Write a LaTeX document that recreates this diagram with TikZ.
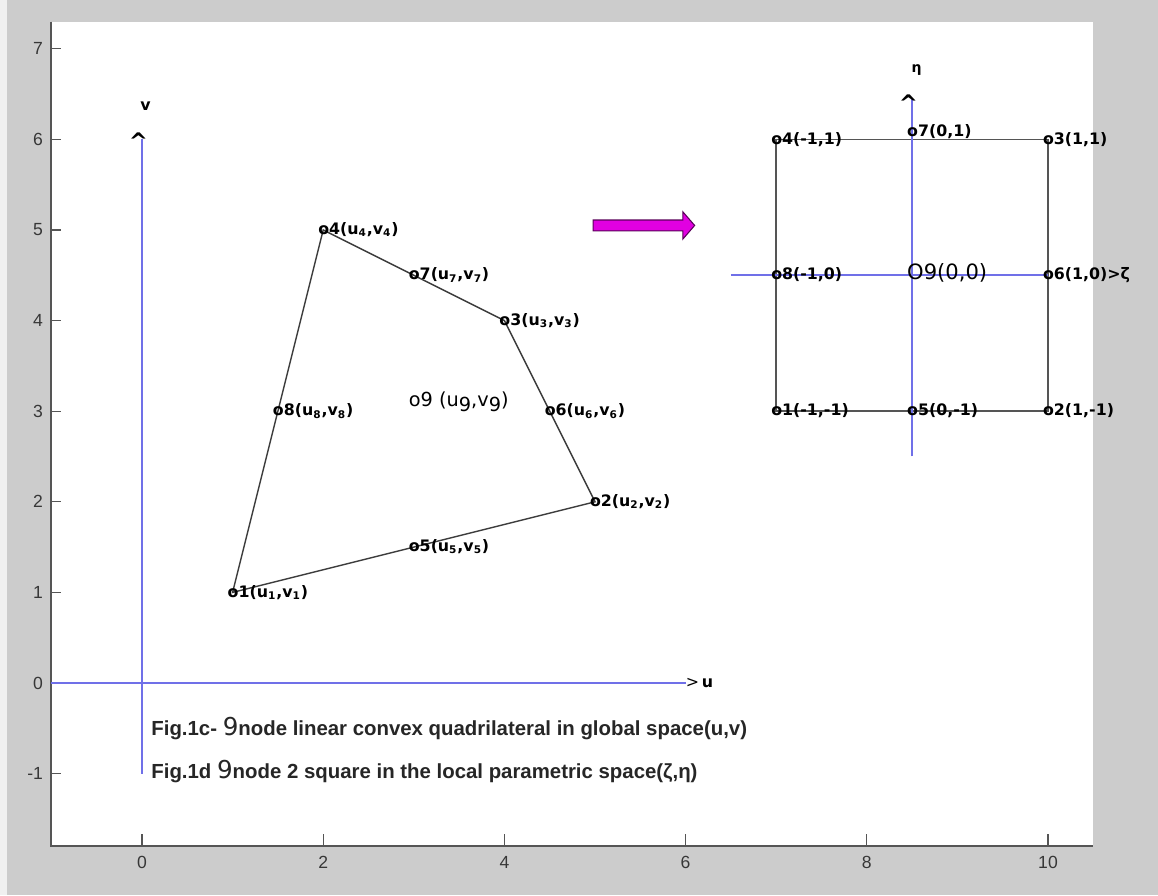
\documentclass[tikz,border=0pt]{standalone}
\usepackage{fontspec}
\setmainfont{Liberation Sans}
\newfontfamily\labfont{DejaVu Sans}
\definecolor{FigGray}{RGB}{204,204,204}
\definecolor{AxisBlue}{RGB}{112,112,232}
\definecolor{FrameGray}{RGB}{85,85,85}
\definecolor{EdgeGray}{RGB}{60,60,60}
\definecolor{TickText}{RGB}{55,55,55}
\definecolor{ArrowPink}{RGB}{225,0,225}
\usetikzlibrary{
    calc,
}

\tikzset{
    ptlabel/.style={anchor=mid west, inner sep=0pt, xshift=-3pt, text=black,
        font=\labfont\bfseries\fontsize{9}{10}\selectfont},
    bignine/.style={anchor=mid west, inner sep=0pt, xshift=-3pt, text=black,
        font=\labfont\fontsize{11}{12}\selectfont},
    ticklabel/.style={inner sep=0pt, text=TickText, font=\fontsize{10}{11}\selectfont},
    caption/.style={anchor=west, inner sep=0pt, text=black!85,
        font=\bfseries\fontsize{11.6}{13}\selectfont},
    caret/.style={inner sep=0pt, font=\labfont\bfseries\fontsize{13}{14}\selectfont},
    blueaxis/.style={draw=AxisBlue, line width=1.2pt},
}

\begin{document}
\begin{tikzpicture}[x=1.812cm, y=1.812cm]
    % figure window and axes area
    \fill[FigGray] (-1.5673,-2.3400) rectangle (11.2141,7.5386);
    \fill[black!6] (-1.5673,-2.3400) rectangle (-1.49,7.5386);
    \useasboundingbox (-1.5673,-2.3400) rectangle (11.2141,7.5386);
    \fill[white] (-1,-1.8) rectangle (10.5,7.3);
    \draw[FrameGray, line width=1.1pt] (-1,7.3) -- (-1,-1.8) -- (10.5,-1.8);
    \foreach \yy in {-1,...,7} {
        \draw[FrameGray, line width=0.6pt] (-0.99,\yy) -- (-0.89,\yy);
        \node[ticklabel, anchor=east] at (-1.09,\yy) {\yy};
    }
    \foreach \xx in {0,2,...,10} {
        \draw[FrameGray, line width=0.6pt] (\xx,-1.79) -- (\xx,-1.67);
        \node[ticklabel, anchor=north] at (\xx,-1.91) {\xx};
    }

    % global space (u,v)
    \coordinate (vbot) at (0,-1);
    \coordinate (vtop) at (0,6);
    \coordinate (uleft) at (-1,0);
    \coordinate (uright) at (6,0);
    \draw[blueaxis] (vbot) -- (vtop);
    \draw[blueaxis] (uleft) -- (uright);
    \node[caret] (vcaret) at (-0.04,5.98) {\^{}};
    \node[inner sep=0pt, font=\labfont\bfseries\fontsize{9}{10}\selectfont] (vname) at (0.04,6.37) {v};
    \node[anchor=mid west, inner sep=0pt, font=\labfont\fontsize{9}{10}\selectfont] (uname) at (uright) {>\,\textbf{u}};

    \coordinate (q1) at (1,1);
    \coordinate (q2) at (5,2);
    \coordinate (q3) at (4,4);
    \coordinate (q4) at (2,5);
    \coordinate (q5) at (3,1.5);
    \coordinate (q6) at (4.5,3);
    \coordinate (q7) at (3,4.5);
    \coordinate (q8) at (1.5,3);
    \draw[EdgeGray, line width=0.8pt] (q1) -- (q5) -- (q2) -- (q6) -- (q3) -- (q7) -- (q4) -- (q8) -- cycle;

    \node[ptlabel] (l1) at (q1) {o1(u\textsubscript{1},v\textsubscript{1})};
    \node[ptlabel] (l2) at (q2) {o2(u\textsubscript{2},v\textsubscript{2})};
    \node[ptlabel] (l3) at (q3) {o3(u\textsubscript{3},v\textsubscript{3})};
    \node[ptlabel] (l4) at (q4) {o4(u\textsubscript{4},v\textsubscript{4})};
    \node[ptlabel] (l5) at (q5) {o5(u\textsubscript{5},v\textsubscript{5})};
    \node[ptlabel] (l6) at (q6) {o6(u\textsubscript{6},v\textsubscript{6})};
    \node[ptlabel] (l7) at (q7) {o7(u\textsubscript{7},v\textsubscript{7})};
    \node[ptlabel] (l8) at (q8) {o8(u\textsubscript{8},v\textsubscript{8})};
    \node[bignine] (l9) at (3,3.1) {o9 (u\raisebox{-0.45ex}{9},v\raisebox{-0.45ex}{9})};

    % mapping arrow
    \coordinate (arrS) at (4.98,5.05);
    \coordinate (arrT) at (6.10,5.05);
    \fill[ArrowPink, draw=black!60!ArrowPink, line width=0.6pt]
        ($(arrS)+(0,0.06)$) -- ($(arrT)+(-0.13,0.06)$) -- ($(arrT)+(-0.13,0.15)$) -- (arrT)
        -- ($(arrT)+(-0.13,-0.15)$) -- ($(arrT)+(-0.13,-0.06)$) -- ($(arrS)+(0,-0.06)$) -- cycle;

    % local space (zeta,eta)
    \coordinate (s1) at (7,3);
    \coordinate (s2) at (10,3);
    \coordinate (s3) at (10,6);
    \coordinate (s4) at (7,6);
    \coordinate (etabot) at (8.5,2.5);
    \coordinate (etatop) at (8.5,6.45);
    \coordinate (zleft) at (6.5,4.5);
    \coordinate (zright) at (10,4.5);
    \draw[FrameGray, line width=1pt] (s1) -- (s2) -- (s3) -- (s4) -- cycle;
    \draw[blueaxis] (etabot) -- (etatop);
    \draw[blueaxis] (zleft) -- (zright);
    \node[caret] (ecaret) at (8.46,6.4) {\^{}};
    \node[inner sep=0pt, font=\labfont\bfseries\fontsize{8}{9}\selectfont] (ename) at (8.55,6.77) {η};

    \node[ptlabel] (m1) at (s1) {o1(-1,-1)};
    \node[ptlabel] (m2) at (s2) {o2(1,-1)};
    \node[ptlabel] (m3) at (s3) {o3(1,1)};
    \node[ptlabel] (m4) at (s4) {o4(-1,1)};
    \node[ptlabel] (m5) at (8.5,3) {o5(0,-1)};
    \node[ptlabel] (m6) at (zright) {o6(1,0)>ζ};
    \node[ptlabel] (m7) at (8.5,6.08) {o7(0,1)};
    \node[ptlabel] (m8) at (7,4.5) {o8(-1,0)};
    \node[bignine, font=\labfont\fontsize{12}{13}\selectfont] (m9) at (8.5,4.5) {O9(0,0)};

    % captions
    \node[caption] (capc) at (0.1,-0.5) {Fig.1c- {\labfont\mdseries\fontsize{14}{15}\selectfont 9}node linear convex quadrilateral in global space(u,v)};
    \node[caption] (capd) at (0.1,-0.98) {Fig.1d {\labfont\mdseries\fontsize{14}{15}\selectfont 9}node 2 square in the local parametric space(ζ,η)};
\end{tikzpicture}
\end{document}
